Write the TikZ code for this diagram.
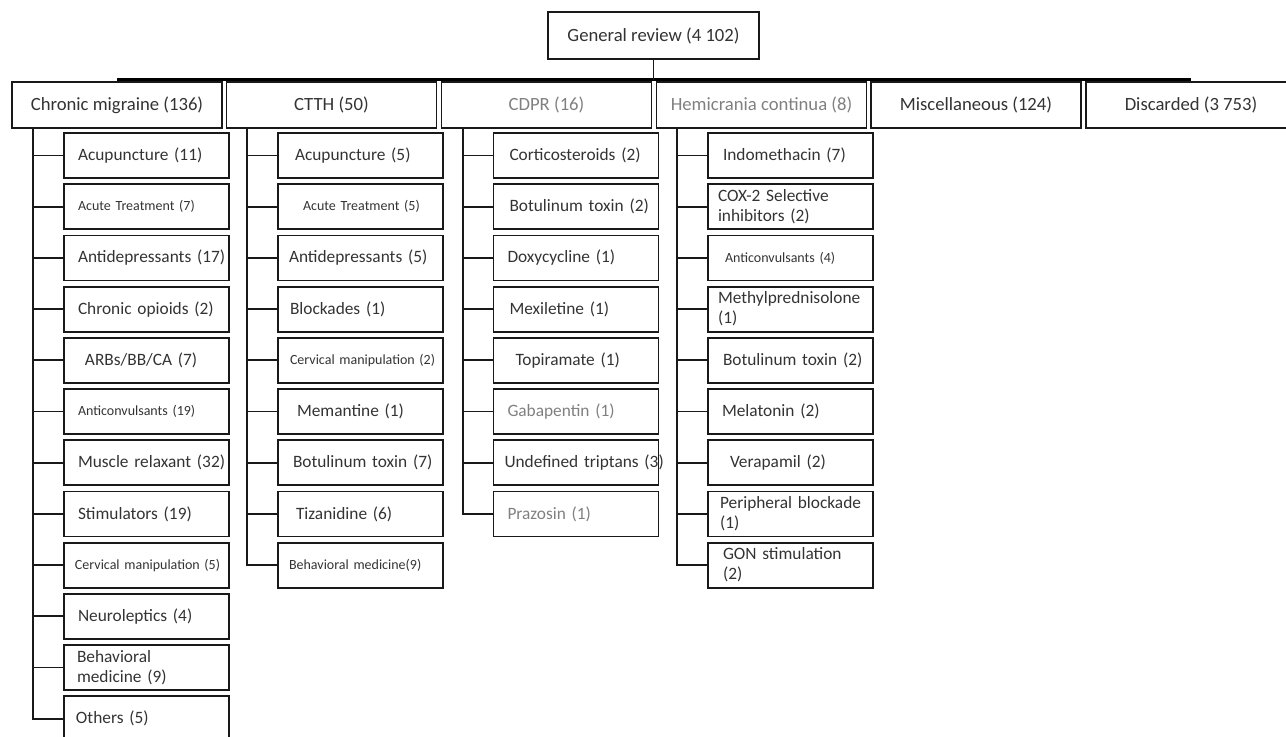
\documentclass[tikz,border=0pt]{standalone}
\usepackage{fontspec}
\setmainfont{Carlito}

\begin{document}
\begin{tikzpicture}[x=0.75pt,y=-0.75pt,
  catbox/.style={draw=black!90,line width=1.35pt,minimum width=157.5pt,minimum height=34.5pt,inner sep=0pt,text=black!80,font=\fontsize{14}{16}\selectfont},
  lpad/.style={execute at begin node={\leftskip=#1}},
  item/.style={draw=black!90,line width=1.35pt,minimum height=33.75pt,inner xsep=0pt,inner ysep=0.5pt,text width=123.75pt,align=left,text=black!80,font=\fontsize{13}{15}\selectfont,lpad=10.5pt},
  mid/.style={align=center,execute at begin node={}},
  tiny/.style={font=\fontsize{10.5}{12}\selectfont},
  pale/.style={text=black!50},
  link/.style={draw=black!90,line width=1.3pt}]
\useasboundingbox (0,0) rectangle (1286,736);

\node[catbox,minimum width=158.25pt,minimum height=35.25pt] (gr) at (653.5,35.5) {General review (4 102)};

\node[catbox] (cm) at (117,105) {Chronic migraine (136)};
\node[catbox] (ct) at (331.5,105) {CTTH (50)};
\node[catbox,pale] (cd) at (546.5,105) {CDPR (16)};
\node[catbox,pale] (hc) at (761.5,105) {Hemicrania continua (8)};
\node[catbox] (mi) at (976,105) {Miscellaneous (124)};
\node[catbox] (di) at (1191,105) {Discarded (3 753)};

\coordinate (busL) at (117,79.5);
\coordinate (busR) at (1191,79.5);
\draw[link,draw=black,line width=2.2pt] (busL) -- (busR);
\draw[link] (gr.south) -- (gr.south |- busL);

\node[item] (cm1) at (146.5,155.5) {Acupuncture (11)};
\node[item,tiny] (cm2) at (146.5,206.7) {Acute Treatment (7)};
\node[item] (cm3) at (146.5,257.9) {Antidepressants (17)};
\node[item] (cm4) at (146.5,309.1) {Chronic opioids (2)};
\node[item,lpad=15.75pt] (cm5) at (146.5,360.3) {ARBs/BB/CA (7)};
\node[item,tiny] (cm6) at (146.5,411.5) {Anticonvulsants (19)};
\node[item] (cm7) at (146.5,462.7) {Muscle relaxant (32)};
\node[item] (cm8) at (146.5,513.9) {Stimulators (19)};
\node[item,tiny,lpad=8.25pt] (cm9) at (146.5,565.1) {Cervical manipulation (5)};
\node[item] (cm10) at (146.5,616.3) {Neuroleptics (4)};
\node[item,lpad=9.75pt] (cm11) at (146.5,667.5) {Behavioral\\medicine (9)};
\node[item,lpad=9pt] (cm12) at (146.5,718.7) {Others (5)};

\node[item,lpad=12.75pt] (ct1) at (360.5,155.5) {Acupuncture (5)};
\node[item,tiny,lpad=18.75pt] (ct2) at (360.5,206.7) {Acute Treatment (5)};
\node[item,lpad=8.25pt] (ct3) at (360.5,257.9) {Antidepressants (5)};
\node[item,lpad=9pt] (ct4) at (360.5,309.1) {Blockades (1)};
\node[item,tiny,lpad=9pt] (ct5) at (360.5,360.3) {Cervical manipulation (2)};
\node[item,lpad=14.25pt] (ct6) at (360.5,411.5) {Memantine (1)};
\node[item,lpad=11.25pt] (ct7) at (360.5,462.7) {Botulinum toxin (7)};
\node[item,lpad=13.5pt] (ct8) at (360.5,513.9) {Tizanidine (6)};
\node[item,tiny,lpad=8.25pt] (ct9) at (360.5,565.1) {Behavioral medicine(9)};

\node[item,lpad=12pt] (cd1) at (576,155.5) {Corticosteroids (2)};
\node[item,lpad=12pt] (cd2) at (576,206.7) {Botulinum toxin (2)};
\node[item,mid] (cd3) at (576,257.9) {Doxycycline (1)};
\node[item,lpad=12pt] (cd4) at (576,309.1) {Mexiletine (1)};
\node[item,lpad=16.5pt] (cd5) at (576,360.3) {Topiramate (1)};
\node[item,mid,pale] (cd6) at (576,411.5) {Gabapentin (1)};
\node[item,lpad=8.25pt] (cd7) at (576,462.7) {\mbox{Undefined triptans (3)}};
\node[item,mid,pale] (cd8) at (576,513.9) {Prazosin (1)};

\node[item,lpad=11.25pt] (hc1) at (790.5,155.5) {Indomethacin (7)};
\node[item,lpad=7.5pt] (hc2) at (790.5,206.7) {COX-2 Selective\\inhibitors (2)};
\node[item,tiny,lpad=12.75pt] (hc3) at (790.5,257.9) {Anticonvulsants (4)};
\node[item,lpad=7.5pt] (hc4) at (790.5,309.1) {Methylprednisolone\\(1)};
\node[item,lpad=11.25pt] (hc5) at (790.5,360.3) {Botulinum toxin (2)};
\node[item,mid] (hc6) at (790.5,411.5) {Melatonin (2)};
\node[item,lpad=16.5pt] (hc7) at (790.5,462.7) {Verapamil (2)};
\node[item,lpad=9pt] (hc8) at (790.5,513.9) {Peripheral blockade\\(1)};
\node[item,lpad=11.25pt] (hc9) at (790.5,565.1) {GON stimulation\\(2)};

\coordinate (cmS) at (33,128);
\coordinate (ctS) at (247,128);
\coordinate (cdS) at (463,128);
\coordinate (hcS) at (677,128);

\draw[link] (cmS) |- (cm12.west);
\draw[link] (cm1.west) -- (cm1.west -| cmS);
\draw[link] (cm2.west) -- (cm2.west -| cmS);
\draw[link] (cm3.west) -- (cm3.west -| cmS);
\draw[link] (cm4.west) -- (cm4.west -| cmS);
\draw[link] (cm5.west) -- (cm5.west -| cmS);
\draw[link] (cm6.west) -- (cm6.west -| cmS);
\draw[link] (cm7.west) -- (cm7.west -| cmS);
\draw[link] (cm8.west) -- (cm8.west -| cmS);
\draw[link] (cm9.west) -- (cm9.west -| cmS);
\draw[link] (cm10.west) -- (cm10.west -| cmS);
\draw[link] (cm11.west) -- (cm11.west -| cmS);

\draw[link] (ctS) |- (ct9.west);
\draw[link] (ct1.west) -- (ct1.west -| ctS);
\draw[link] (ct2.west) -- (ct2.west -| ctS);
\draw[link] (ct3.west) -- (ct3.west -| ctS);
\draw[link] (ct4.west) -- (ct4.west -| ctS);
\draw[link] (ct5.west) -- (ct5.west -| ctS);
\draw[link] (ct6.west) -- (ct6.west -| ctS);
\draw[link] (ct7.west) -- (ct7.west -| ctS);
\draw[link] (ct8.west) -- (ct8.west -| ctS);

\draw[link] (cdS) |- (cd8.west);
\draw[link] (cd1.west) -- (cd1.west -| cdS);
\draw[link] (cd2.west) -- (cd2.west -| cdS);
\draw[link] (cd3.west) -- (cd3.west -| cdS);
\draw[link] (cd4.west) -- (cd4.west -| cdS);
\draw[link] (cd5.west) -- (cd5.west -| cdS);
\draw[link] (cd6.west) -- (cd6.west -| cdS);
\draw[link] (cd7.west) -- (cd7.west -| cdS);

\draw[link] (hcS) |- (hc9.west);
\draw[link] (hc1.west) -- (hc1.west -| hcS);
\draw[link] (hc2.west) -- (hc2.west -| hcS);
\draw[link] (hc3.west) -- (hc3.west -| hcS);
\draw[link] (hc4.west) -- (hc4.west -| hcS);
\draw[link] (hc5.west) -- (hc5.west -| hcS);
\draw[link] (hc6.west) -- (hc6.west -| hcS);
\draw[link] (hc7.west) -- (hc7.west -| hcS);
\draw[link] (hc8.west) -- (hc8.west -| hcS);
\end{tikzpicture}
\end{document}
